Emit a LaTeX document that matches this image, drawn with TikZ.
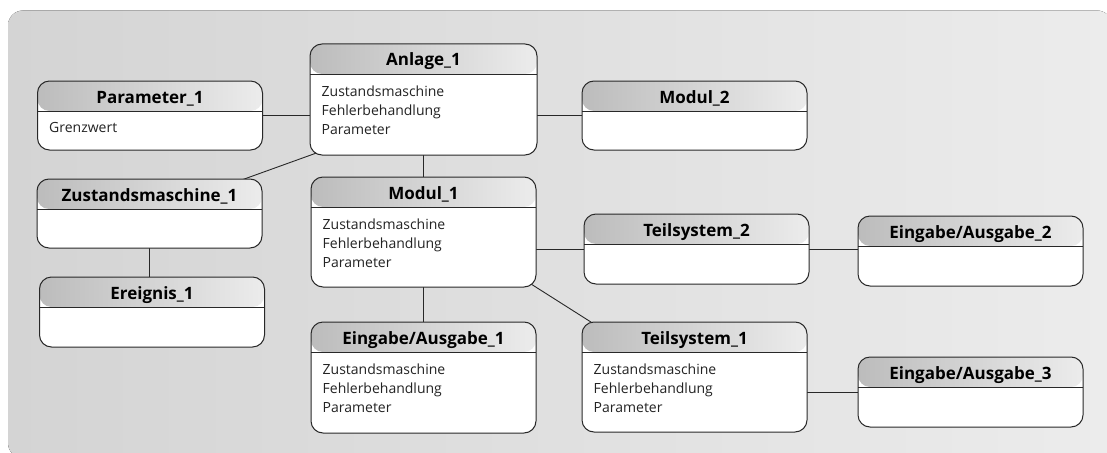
\documentclass[tikz,border=0pt]{standalone}
\usepackage{fontspec}
\setmainfont{Open Sans}

\definecolor{panelL}{RGB}{212,212,212}
\definecolor{panelR}{RGB}{236,236,236}
\definecolor{headL}{RGB}{188,188,188}
\definecolor{headR}{RGB}{236,236,236}
\definecolor{edge}{RGB}{40,40,40}
\definecolor{bodytext}{RGB}{35,35,35}

\pgfdeclarelayer{panel}
\pgfdeclarelayer{links}
\pgfsetlayers{panel,links,main}

\tikzset{
  entity/.style={draw=edge, line width=1pt, fill=white, rounded corners=12pt,
    inner sep=0pt, minimum width=225pt,
    path picture={
      \fill[left color=headL, right color=headR]
        (path picture bounding box.north west) rectangle
        ([yshift=-30pt]path picture bounding box.north east);
      \draw[edge, line width=1pt]
        ([yshift=-30pt]path picture bounding box.north west) --
        ([yshift=-30pt]path picture bounding box.north east);
    }},
  entitysmall/.style={entity, minimum height=69pt},
  entitylarge/.style={entity, minimum height=110pt},
  title/.style={font=\fontsize{17}{20}\selectfont\bfseries, text=black,
    inner sep=0pt, anchor=base},
  attrs/.style={font=\fontsize{14}{19}\selectfont, text=bodytext,
    inner sep=0pt, anchor=north west, align=left},
  link/.style={draw=edge, line width=0.9pt, shorten <=-8pt, shorten >=-8pt},
}

% heading and attribute list of an entity box
\newcommand\entitytext[3]{%
  \node[title] (#1-t) at ([yshift=-22.5pt]#1.north) {#2};
  \node[attrs] (#1-a) at ([xshift=12pt,yshift=-42pt]#1.north west) {#3};
}

\begin{document}
\begin{tikzpicture}[x=1pt, y=-1pt]
  \useasboundingbox (0,0) rectangle (1107,452);

  \begin{pgfonlayer}{panel}
    \fill[left color=panelL, right color=panelR, rounded corners=15pt]
      (8,10.5) rectangle (1112,458);
  \end{pgfonlayer}

  % entity boxes
  \node[entitysmall] (par) at (150,115.5) {};
  \node[entitylarge, minimum width=227pt, minimum height=111pt] (anl) at (423.5,99.5) {};
  \node[entitysmall] (mo2) at (694.5,115.5) {};
  \node[entitysmall] (zm1) at (149.5,213.5) {};
  \node[entitysmall, minimum height=70pt] (ere) at (152,312) {};
  \node[entitylarge] (mo1) at (423.5,232) {};
  \node[entitysmall, minimum height=70pt] (ts2) at (696.5,249) {};
  \node[entitysmall, minimum height=70pt] (ea2) at (970.5,251) {};
  \node[entitylarge] (ts1) at (694.5,377) {};
  \node[entitylarge, minimum height=111pt] (ea1) at (423.5,377.5) {};
  \node[entitysmall, minimum height=70pt] (ea3) at (970.5,392) {};

  \entitytext{par}{Parameter\_1}{Grenzwert}
  \entitytext{anl}{Anlage\_1}{Zustandsmaschine\\Fehlerbehandlung\\Parameter}
  \entitytext{mo2}{Modul\_2}{}
  \entitytext{zm1}{Zustandsmaschine\_1}{}
  \entitytext{ere}{Ereignis\_1}{}
  \entitytext{mo1}{Modul\_1}{Zustandsmaschine\\Fehlerbehandlung\\Parameter}
  \entitytext{ts2}{Teilsystem\_2}{}
  \entitytext{ea2}{Eingabe/Ausgabe\_2}{}
  \entitytext{ts1}{Teilsystem\_1}{Zustandsmaschine\\Fehlerbehandlung\\Parameter}
  \entitytext{ea1}{Eingabe/Ausgabe\_1}{Zustandsmaschine\\Fehlerbehandlung\\Parameter}
  \entitytext{ea3}{Eingabe/Ausgabe\_3}{}

  % connectors, tucked underneath the boxes
  \begin{pgfonlayer}{links}
    \draw[link] (par.east) -- (par.east -| anl.west);
    \draw[link] (mo2.west -| anl.east) -- (mo2.west);
    \draw[link] (anl.south) -- (mo1.north);
    \draw[link] (zm1.20) -- (anl.south west);
    \draw[link] (zm1.south) -- (zm1.south |- ere.north);
    \draw[link] (ts2.west -| mo1.east) -- (ts2.west);
    \draw[link] (ts2.east) -- (ts2.east -| ea2.west);
    \draw[link] (mo1.south) -- (ea1.north);
    \draw[link] (mo1.south east) -- (ts1.152);
    \draw[link] (ea3.west -| ts1.east) -- (ea3.west);
  \end{pgfonlayer}
\end{tikzpicture}
\end{document}
